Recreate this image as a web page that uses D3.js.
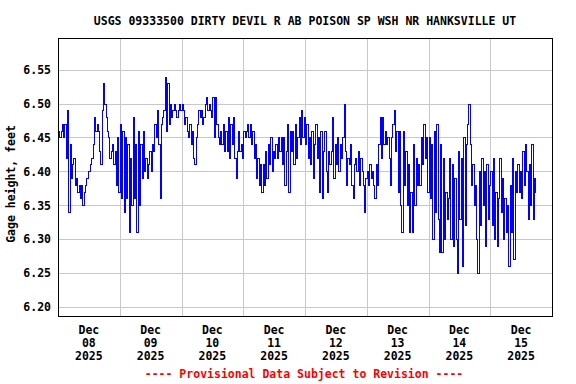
<!DOCTYPE html>
<html>
<head>
<meta charset="utf-8">
<script src="https://cdn.jsdelivr.net/npm/d3@7"></script>
<style>
  html, body { margin: 0; padding: 0; background: #fff; }
  svg { display: block; }
  text { font-family: "DejaVu Sans Mono", "Liberation Mono", monospace; font-weight: bold; }
</style>
</head>
<body>
<svg id="chart" width="576" height="384"></svg>
<script>
// ---- data: gage height (feet), 30-minute readings starting each day at 00:00 ----
const title = "USGS 09333500 DIRTY DEVIL R AB POISON SP WSH NR HANKSVILLE UT";
const yLabel = "Gage height, feet";
const footer = "---- Provisional Data Subject to Revision ----";
const dayLabels = ["08", "09", "10", "11", "12", "13", "14", "15"];
const yTicks = [6.20, 6.25, 6.30, 6.35, 6.40, 6.45, 6.50, 6.55];

const dec08 = [6.46,6.45,6.46,6.47,6.45,6.47,6.42,6.49,6.34,6.44,6.39,6.41,6.42,6.38,6.39,6.37,
               6.38,6.36,6.38,6.35,6.37,6.38,6.39,6.40,6.40,6.41,6.42,6.44,6.48,6.46,6.47,6.46,
               6.43,6.41,6.49,6.53,6.50,6.48,6.46,6.45,6.42,6.43,6.44,6.41,6.43,6.38,6.45,6.37];
const dec09 = [6.47,6.36,6.46,6.34,6.45,6.36,6.44,6.31,6.42,6.35,6.48,6.36,6.44,6.31,6.46,6.35,
               6.44,6.39,6.46,6.40,6.42,6.39,6.41,6.43,6.40,6.44,6.43,6.47,6.45,6.49,6.44,6.36,
               6.47,6.48,6.49,6.54,6.46,6.53,6.47,6.50,6.48,6.49,6.50,6.49,6.48,6.49,6.50,6.49];
const dec10 = [6.50,6.49,6.47,6.48,6.46,6.45,6.47,6.44,6.46,6.42,6.41,6.45,6.47,6.49,6.48,6.49,
               6.47,6.48,6.50,6.51,6.49,6.50,6.49,6.48,6.51,6.45,6.51,6.47,6.45,6.44,6.46,6.44,
               6.47,6.43,6.46,6.43,6.48,6.42,6.47,6.44,6.48,6.42,6.39,6.43,6.46,6.43,6.44,6.42];
const dec11 = [6.46,6.45,6.46,6.47,6.45,6.47,6.44,6.46,6.42,6.44,6.39,6.42,6.38,6.41,6.37,6.41,
               6.38,6.43,6.39,6.44,6.41,6.45,6.40,6.43,6.42,6.44,6.42,6.45,6.43,6.45,6.41,6.45,
               6.38,6.43,6.47,6.37,6.46,6.43,6.46,6.41,6.47,6.42,6.45,6.48,6.44,6.49,6.45,6.48];
const dec12 = [6.44,6.47,6.42,6.45,6.41,6.46,6.39,6.44,6.47,6.42,6.45,6.37,6.46,6.36,6.43,6.46,
               6.40,6.37,6.43,6.41,6.43,6.48,6.39,6.44,6.41,6.45,6.40,6.44,6.42,6.45,6.50,6.43,
               6.38,6.42,6.41,6.44,6.38,6.36,6.41,6.42,6.40,6.43,6.38,6.42,6.40,6.38,6.34,6.39];
const dec13 = [6.40,6.38,6.41,6.39,6.40,6.38,6.36,6.41,6.38,6.44,6.48,6.42,6.48,6.44,6.46,6.44,
               6.45,6.42,6.38,6.45,6.47,6.49,6.43,6.46,6.37,6.46,6.35,6.31,6.46,6.38,6.43,6.35,
               6.41,6.31,6.37,6.31,6.44,6.35,6.42,6.38,6.41,6.38,6.45,6.41,6.47,6.42,6.45,6.37];
const dec14 = [6.45,6.36,6.44,6.30,6.46,6.34,6.47,6.33,6.28,6.44,6.28,6.42,6.30,6.37,6.33,6.36,
               6.42,6.30,6.41,6.29,6.39,6.30,6.25,6.43,6.33,6.42,6.26,6.45,6.32,6.44,6.47,6.50,
               6.44,6.38,6.41,6.35,6.38,6.30,6.25,6.40,6.32,6.42,6.35,6.40,6.29,6.41,6.33,6.38];
const dec15 = [6.40,6.32,6.42,6.30,6.37,6.29,6.36,6.42,6.34,6.39,6.30,6.36,6.31,6.35,6.26,6.38,
               6.31,6.42,6.27,6.40,6.37,6.41,6.37,6.40,6.36,6.43,6.38,6.44,6.40,6.33,6.41,6.35,
               6.44,6.33,6.39,6.37];
const days = [dec08, dec09, dec10, dec11, dec12, dec13, dec14, dec15];

// ---- build series ----
const HALF_HOUR = 30 * 60 * 1000;
const data = [];
days.forEach((vals, d) => {
  const dayStart = Date.UTC(2025, 11, 8 + d);
  vals.forEach((v, i) => data.push({ t: new Date(dayStart + i * HALF_HOUR), v }));
});

// ---- layout ----
const svg = d3.select("#chart");
const L = 58, R = 552, T = 38, B = 316;

const x = d3.scaleUtc()
  .domain([new Date(Date.UTC(2025, 11, 8)), new Date(Date.UTC(2025, 11, 16))])
  .range([L, R]);
const y = d3.scaleLinear().domain([6.186, 6.597]).range([B, T]);

// grid
const grid = svg.append("g").attr("shape-rendering", "crispEdges")
  .attr("stroke", "#c8c8c8").attr("stroke-width", 1);
grid.selectAll("line.h").data(yTicks).join("line")
  .attr("x1", L).attr("x2", R)
  .attr("y1", d => Math.round(y(d)) + 0.5).attr("y2", d => Math.round(y(d)) + 0.5);
const midnights = d3.utcDay.range(new Date(Date.UTC(2025, 11, 9)), new Date(Date.UTC(2025, 11, 16)));
grid.selectAll("line.v").data(midnights).join("line")
  .attr("y1", T).attr("y2", B)
  .attr("x1", d => Math.round(x(d)) + 0.5).attr("x2", d => Math.round(x(d)) + 0.5);

// data line (snapped to pixel centres, like the bitmap original)
const line = d3.line()
  .x(d => Math.round(x(d.t)) + 0.5)
  .y(d => Math.round(y(d.v)) + 0.5)
  .curve(d3.curveStepAfter);
svg.append("path").datum(data)
  .attr("d", line)
  .attr("fill", "none")
  .attr("stroke", "#0000ff")
  .attr("stroke-width", 1)
  .attr("shape-rendering", "crispEdges");

// frame
svg.append("rect")
  .attr("x", L + 0.5).attr("y", T + 0.5)
  .attr("width", R - L).attr("height", B - T)
  .attr("fill", "none").attr("stroke", "#000").attr("stroke-width", 1.2)
  .attr("shape-rendering", "crispEdges");

// y tick labels
svg.append("g").selectAll("text").data(yTicks).join("text")
  .attr("x", 51).attr("y", d => y(d) + 4.5)
  .attr("text-anchor", "end")
  .attr("font-size", "11.5px")
  .attr("fill", "#000")
  .text(d => d.toFixed(2));

// x tick labels (centered at noon of each day)
const noons = dayLabels.map((lab, i) => ({ lab, t: new Date(Date.UTC(2025, 11, 8 + i, 12)) }));
const xl = svg.append("g").selectAll("text").data(noons).join("text")
  .attr("text-anchor", "middle")
  .attr("font-size", "11.5px")
  .attr("fill", "#000");
xl.append("tspan").attr("x", d => x(d.t)).attr("y", 334).text("Dec");
xl.append("tspan").attr("x", d => x(d.t)).attr("y", 347).text(d => d.lab);
xl.append("tspan").attr("x", d => x(d.t)).attr("y", 360).text("2025");

// title
svg.append("text")
  .attr("x", 305).attr("y", 25)
  .attr("text-anchor", "middle")
  .attr("font-size", "11.5px")
  .attr("fill", "#000")
  .text(title);

// y axis title
svg.append("text")
  .attr("transform", "translate(15,184) rotate(-90)")
  .attr("text-anchor", "middle")
  .attr("font-size", "11.5px")
  .attr("fill", "#000")
  .text(yLabel);

// footer
svg.append("text")
  .attr("x", 304).attr("y", 378)
  .attr("text-anchor", "middle")
  .attr("font-size", "11.5px")
  .attr("fill", "#ff0000")
  .text(footer);
</script>
</body>
</html>
